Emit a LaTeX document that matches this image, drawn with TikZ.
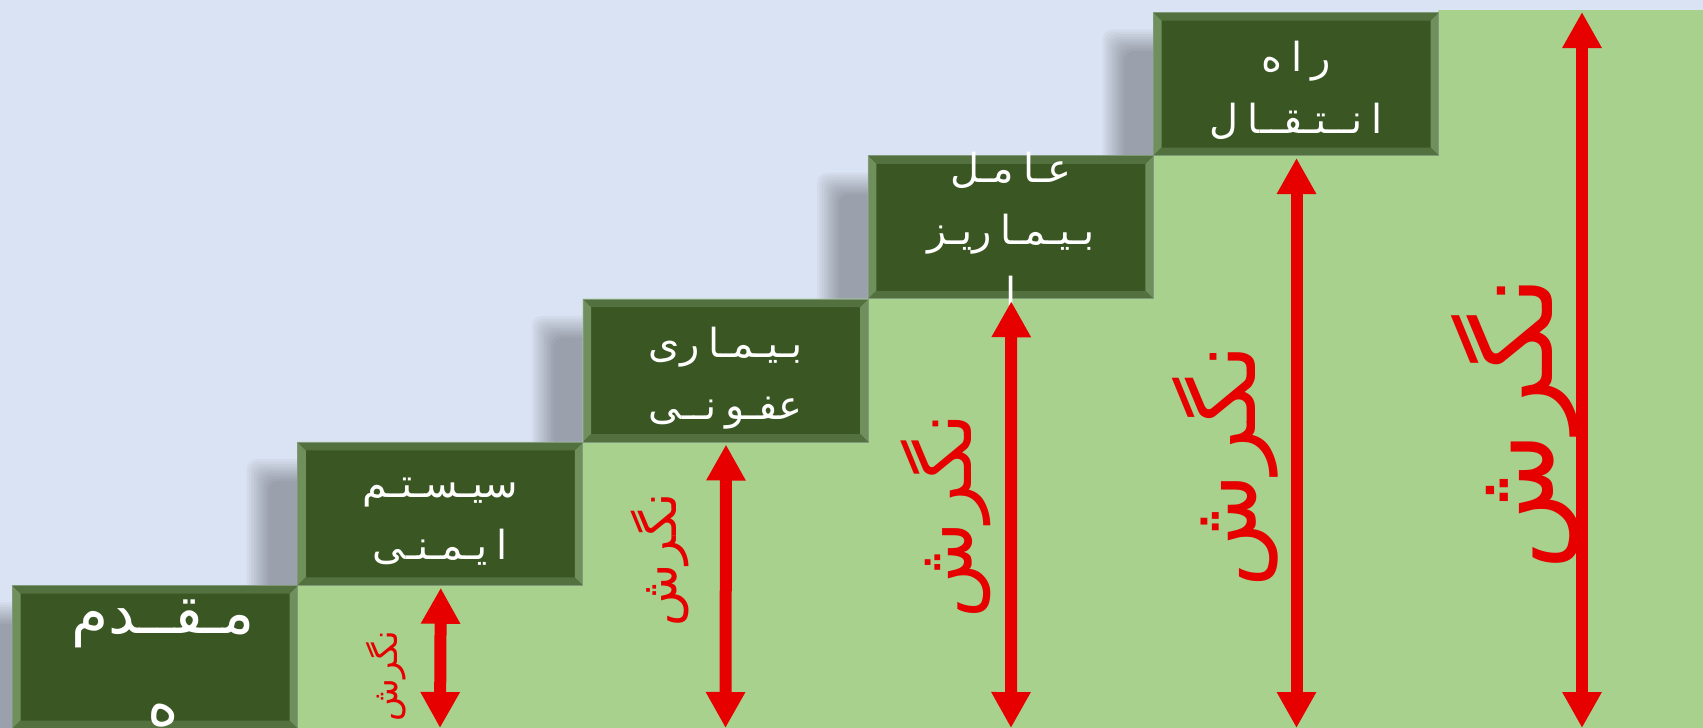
\documentclass[tikz,border=0pt]{standalone}
\usepackage{fontspec}
\newfontfamily\arabicfont[Script=Arabic]{DejaVu Sans}
\TeXXeTstate=1
\usetikzlibrary{arrows.meta}
\definecolor{bgblue}{HTML}{DAE3F3}
\definecolor{stepgreen}{HTML}{A9D18E}
\definecolor{boxgreen}{HTML}{3A5723}
\definecolor{bevside}{HTML}{6F8F5C}
\definecolor{bevtop}{HTML}{52713F}
\definecolor{boxedge}{HTML}{80997A}
\definecolor{arrowred}{HTML}{E60000}
\newcommand\gp{\hspace{9pt}}
\newcommand\boxshadow[2]{%
  \foreach \k in {0,...,9}{%
    \pgfmathsetmacro\dd{11-2.4*\k}%
    \fill[black,opacity=0.033,rounded corners=10pt] ({#1-40+\dd},{#2+28+\dd}) rectangle ({#1+245-\dd},{#2+171-\dd});}}
\tikzset{
  stepbox/.style={draw=boxedge, line width=1pt, fill=boxgreen, minimum width=285pt,
    minimum height=143pt, inner sep=0pt, anchor=north west,
    path picture={
      \fill[bevside] (path picture bounding box.north west) -- ++(8pt,-8pt)
        -- ([shift={(8pt,8pt)}]path picture bounding box.south west) -- (path picture bounding box.south west) -- cycle;
      \fill[bevside] (path picture bounding box.north east) -- ++(-8pt,-8pt)
        -- ([shift={(-8pt,8pt)}]path picture bounding box.south east) -- (path picture bounding box.south east) -- cycle;
      \fill[bevtop] (path picture bounding box.north west) -- ++(8pt,-8pt)
        -- ([shift={(-8pt,-8pt)}]path picture bounding box.north east) -- (path picture bounding box.north east) -- cycle;
      \fill[bevtop] (path picture bounding box.south west) -- ++(8pt,8pt)
        -- ([shift={(-8pt,8pt)}]path picture bounding box.south east) -- (path picture bounding box.south east) -- cycle;
    }},
  boxtext/.style={text=white, align=center, inner sep=0pt, font=\arabicfont\fontsize{40}{62}\selectfont},
  bigboxtext/.style={boxtext, font=\arabicfont\fontsize{60}{92}\selectfont},
  growarrow/.style={arrowred, line width=12pt, {Triangle[width=37pt,length=36pt]}-{Triangle[width=37pt,length=36pt]}},
  arrowlabel/.style={text=arrowred, rotate=90, inner sep=0pt, anchor=center}
}
\begin{document}
\begin{tikzpicture}[x=1pt,y=-1pt]
\useasboundingbox (0,0) rectangle (1703,728);
\clip (0,0) rectangle (1703,728);
\fill[bgblue] (0,0) rectangle (1703,728);
% shadows
\boxshadow{12}{585}
\boxshadow{297.25}{441.75}
\boxshadow{582.5}{298.5}
\boxshadow{867.75}{155.25}
\boxshadow{1153}{12}
% green staircase
\fill[stepgreen] (297.25,728) -- (297.25,441.75) -- (582.5,441.75) -- (582.5,298.5) -- (867.75,298.5)
  -- (867.75,155.25) -- (1153,155.25) -- (1153,12) -- (1438.25,12) -- (1438.25,10) -- (1703,10) -- (1703,728) -- cycle;
% boxes
\node[stepbox] (b1) at (12,585) {};
\node[stepbox] (b2) at (297.25,441.75) {};
\node[stepbox] (b3) at (582.5,298.5) {};
\node[stepbox] (b4) at (867.75,155.25) {};
\node[stepbox] (b5) at (1153,12) {};
% box texts
\node[bigboxtext] (t1) at ([shift={(8pt,-6pt)}]b1.center) {\beginR مـقــدم\endR\\\beginR ه\endR};
\node[boxtext] (t2) at ([yshift=-8pt]b2.center) {\beginR سیـسـتـم\endR\\\beginR ا\gp یـمـنـی\endR};
\node[boxtext] (t3) at ([yshift=-8pt]b3.center) {\beginR بـیـمـا\gp ری\endR\\\beginR عفـو\gp نــی\endR};
\node[boxtext] (t4) at ([yshift=-2pt]b4.center) {\beginR عـا\gp مـل\endR\\\beginR بـیـمـا\gp ریـز\endR\\\beginR ا\endR};
\node[boxtext] (t5) at ([yshift=-6pt]b5.center) {\beginR ر\gp ا\gp ه\endR\\\beginR ا\gp نــتـقــا\gp ل\endR};
% arrow end points
\coordinate (bot1) at (440,728);
\coordinate (bot2) at (725.5,728);
\coordinate (bot3) at (1011,728);
\coordinate (bot4) at (1296.5,728);
\coordinate (bot5) at (1582,728);
\coordinate (top5) at (1582,12);
\draw[growarrow] ([shift={(0.5pt,-2pt)}]b2.south) -- (bot1);
\draw[growarrow] ([shift={(0.5pt,-2pt)}]b3.south) -- (bot2);
\draw[growarrow] ([shift={(0.5pt,-2pt)}]b4.south) -- (bot3);
\draw[growarrow] ([shift={(0.5pt,-2pt)}]b5.south) -- (bot4);
\draw[growarrow] (top5) -- (bot5);
% labels
\node[arrowlabel, font=\arabicfont\fontsize{35}{50}\selectfont] (l1) at (386,676) {\beginR نگرش\endR};
\node[arrowlabel, font=\arabicfont\fontsize{51}{60}\selectfont] (l2) at (660,560) {\beginR نگرش\endR};
\node[arrowlabel, font=\arabicfont\fontsize{79}{90}\selectfont] (l3) at (946,516) {\beginR نگرش\endR};
\node[arrowlabel, font=\arabicfont\fontsize{93}{110}\selectfont] (l4) at (1225,466) {\beginR نگرش\endR};
\node[arrowlabel, font=\arabicfont\fontsize{113}{130}\selectfont] (l5) at (1516,423) {\beginR نگرش\endR};
\end{tikzpicture}
\end{document}
